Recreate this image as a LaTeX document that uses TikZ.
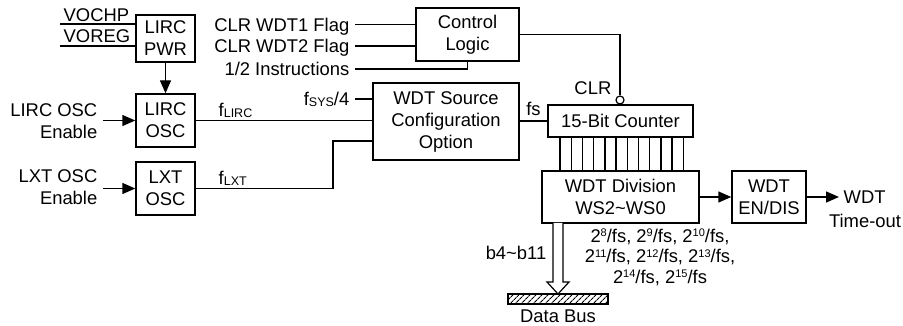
\documentclass[tikz,border=0pt]{standalone}
\usepackage{fontspec}
\setmainfont{Liberation Sans}
\usetikzlibrary{arrows.meta,patterns.meta}
\newcommand\subsm[1]{\raisebox{-1.2pt}{\fontsize{12.5}{12.5}\selectfont #1}}
\newcommand\supsm[1]{\raisebox{5.5pt}{\fontsize{11}{11}\selectfont #1}}
\begin{document}
\begin{tikzpicture}[x=1pt,y=-1pt,line width=1.4pt,
  every node/.style={font=\fontsize{18.4}{22}\selectfont},
  blk/.style 2 args={draw,line width=1.4pt,inner sep=0pt,align=center,minimum width=#1,minimum height=#2},
  lbl/.style={inner sep=0pt},
  arr/.style={-{Triangle[length=13pt,width=11pt]}}]
\useasboundingbox (0,0) rectangle (903,326);
% blocks
\node[blk={59pt}{47pt}] (pwr) at (165.5,38.5) {LIRC\\PWR};
\node[blk={59pt}{53pt}] (losc) at (165.5,120.5) {LIRC\\OSC};
\node[blk={59pt}{53pt}] (xosc) at (165.5,188.5) {LXT\\OSC};
\node[blk={103pt}{53pt}] (ctrl) at (467.5,34.5) {Control\\Logic};
\node[blk={146pt}{77pt}] (src) at (446,121.5) {WDT Source\\Configuration\\Option};
\node[blk={145pt}{32pt}] (cnt) at (620.5,121) {15-Bit Counter};
\node[blk={157pt}{52pt}] (div) at (620.5,197) {WDT Division\\WS2\textasciitilde WS0};
\node[blk={74pt}{52pt}] (en) at (769,197) {WDT\\EN/DIS};
\node[draw,line width=1.1pt,pattern={Lines[angle=45,distance=4pt,line width=1.1pt]},minimum width=100pt,minimum height=10pt,inner sep=0pt] (bus) at (558,299) {};
% LIRC PWR inputs
\node[lbl,anchor=base west] (vochp) at (63,22) {VOCHP};
\node[lbl,anchor=base west] (voreg) at (63,43) {VOREG};
\coordinate (v1) at (60,24);
\coordinate (v2) at (60,46);
\draw (v1) -- (v1 -| pwr.west);
\draw (v2) -- (v2 -| pwr.west);
\draw[arr] (pwr) -- (losc);
% enables
\node[lbl,anchor=east,align=right] (len) at (98,121.5) {LIRC OSC\\Enable};
\node[lbl,anchor=east,align=right] (xen) at (98,187.5) {LXT OSC\\Enable};
\coordinate (le) at (103,120.5);
\coordinate (xe) at (103,188.5);
\draw[arr] (le) -- (losc.west);
\draw[arr] (xe) -- (xosc.west);
% control logic inputs
\node[lbl,anchor=base east] (c1) at (350,31.5) {CLR WDT1 Flag};
\node[lbl,anchor=base east] (c2) at (350,53) {CLR WDT2 Flag};
\node[lbl,anchor=base east] (half) at (350,76) {1/2 Instructions};
\coordinate (c1s) at (355,24.5);
\coordinate (c2s) at (355,46);
\coordinate (hs) at (355,69);
\draw (c1s) -- (c1s -| ctrl.west);
\draw (c2s) -- (c2s -| ctrl.west);
\draw (hs) -| (ctrl.south);
% source inputs
\node[lbl,anchor=base east] (fsys) at (350,105.5) {f\subsm{SYS}/4};
\coordinate (fss) at (355,99);
\draw (fss) -- (fss -| src.west);
\node[lbl,anchor=base west] (fl) at (218,116.5) {f\subsm{LIRC}};
\draw (losc.east) -- (losc.east -| src.west);
\node[lbl,anchor=base west] (fx) at (218,184.5) {f\subsm{LXT}};
\coordinate (xb) at (333,141);
\draw (xosc.east) -| (xb) -- (xb -| src.west);
% counter
\node[lbl,anchor=base] (fs) at (533.5,116) {fs};
\draw (src.east |- cnt.west) -- (cnt.west);
\node[draw,circle,inner sep=0pt,minimum size=8pt,line width=1.2pt] (clrc) at (620,100) {};
\node[lbl,anchor=base east] (clr) at (612,95) {CLR};
\draw (ctrl.east) -| (clrc.north);
\foreach \i in {0,...,11} {
  \coordinate (t\i) at ({560+11.2*\i},0);
  \draw (t\i |- cnt.south) -- (t\i |- div.north);
}
% outputs
\draw[arr] (div) -- (en);
\coordinate (wo) at (839,197);
\draw[arr] (en.east) -- (wo);
\node[lbl,anchor=west] (wdt) at (843,197) {WDT};
\node[lbl] (tout) at (865,221) {Time-out};
\node[lbl,align=center,font=\fontsize{18.4}{20.5}\selectfont] (rates) at (660,257.5)
  {2\supsm{8}/fs, 2\supsm{9}/fs, 2\supsm{10}/fs,\\
   2\supsm{11}/fs, 2\supsm{12}/fs, 2\supsm{13}/fs,\\
   2\supsm{14}/fs, 2\supsm{15}/fs};
% data bus
\node[lbl,anchor=east] (bl) at (547,253) {b4\textasciitilde b11};
\draw[line width=1.2pt,fill=white] (553,223) -- (553,282) -- (547,282) -- (558,294) -- (569,282) -- (563,282) -- (563,223);
\node[lbl] (db) at (558,316) {Data Bus};
\end{tikzpicture}
\end{document}
